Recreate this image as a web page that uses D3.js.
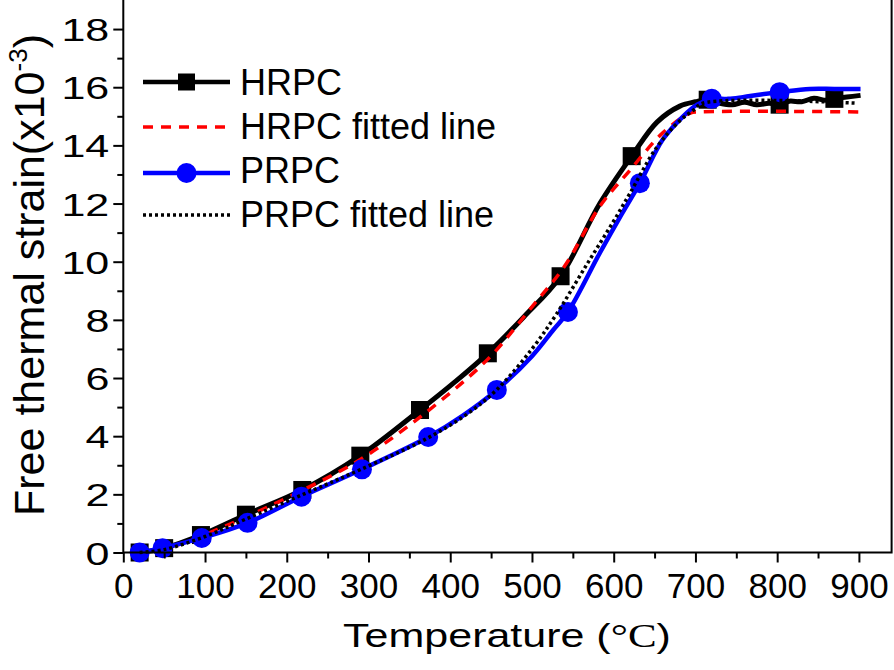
<!DOCTYPE html>
<html>
<head>
<meta charset="utf-8">
<script src="https://cdn.jsdelivr.net/npm/d3@7/dist/d3.min.js"></script>
<style>
  html, body { margin: 0; padding: 0; background: #fff; }
  svg { display: block; }
  text { font-family: "Liberation Sans", Arial, sans-serif; fill: #000; }
</style>
</head>
<body>
<svg id="chart" width="894" height="670"></svg>
<script>
// ---------- data ----------
const xTicks = [0, 100, 200, 300, 400, 500, 600, 700, 800, 900];
const xMinorTicks = [50, 150, 250, 350, 450, 550, 650, 750, 850];
const yTicks = [0, 2, 4, 6, 8, 10, 12, 14, 16, 18];
const yMinorTicks = [1, 3, 5, 7, 9, 11, 13, 15, 17];

const seriesNames = ["HRPC", "HRPC fitted line", "PRPC", "PRPC fitted line"];

// HRPC measured curve
const hrpcT = [20, 50, 95, 150, 219, 290, 363, 405, 446, 490, 535, 583, 622, 653, 681, 700, 715, 730, 745, 760, 775, 790, 803, 815, 830, 845, 860, 872, 885, 902];
const hrpcV = [0, 0.15, 0.6, 1.3, 2.15, 3.33, 4.9, 5.85, 6.85, 8.1, 9.5, 12.0, 13.63, 14.8, 15.35, 15.5, 15.57, 15.45, 15.4, 15.48, 15.4, 15.45, 15.42, 15.52, 15.5, 15.62, 15.55, 15.62, 15.66, 15.72];
const hrpcMarkT = [20, 50, 95, 150, 219, 290, 363, 446, 535, 622, 715, 803, 870];
const hrpcMarkV = [0, 0.15, 0.6, 1.3, 2.15, 3.33, 4.9, 6.85, 9.5, 13.63, 15.57, 15.4, 15.6];

// HRPC fitted line
const hrpcFitT = [20, 50, 100, 150, 220, 290, 365, 446, 500, 540, 583, 620, 660, 693, 706, 902];
const hrpcFitV = [0, 0.12, 0.62, 1.22, 2.15, 3.2, 4.7, 6.65, 8.45, 9.85, 11.9, 13.15, 14.43, 15.1, 15.15, 15.15];

// PRPC measured curve
const prpcT = [20, 48, 96, 152, 218, 292, 373, 415, 457, 500, 526, 544, 583, 607, 632, 660, 685, 702, 720, 740, 758, 780, 803, 840, 870, 902];
const prpcV = [0, 0.15, 0.5, 1.02, 1.92, 2.86, 3.97, 4.7, 5.59, 6.75, 7.65, 8.27, 10.3, 11.5, 12.7, 14.2, 15.0, 15.4, 15.6, 15.6, 15.66, 15.75, 15.83, 15.94, 15.94, 15.94];
const prpcMarkT = [20, 48, 96, 152, 218, 292, 373, 457, 544, 632, 720, 803];
const prpcMarkV = [0, 0.15, 0.5, 1.02, 1.92, 2.86, 3.97, 5.59, 8.27, 12.7, 15.6, 15.83];

// PRPC fitted line
const prpcFitT = [20, 50, 100, 150, 220, 290, 370, 420, 457, 500, 530, 567, 600, 620, 653, 681, 697, 709, 897];
const prpcFitV = [0, 0.1, 0.55, 1.15, 2.0, 2.85, 3.9, 4.75, 5.6, 7.0, 8.2, 9.9, 11.4, 12.36, 13.95, 14.85, 15.2, 15.45, 15.45];

// ---------- layout ----------
const svg = d3.select("#chart");
const x = d3.scaleLinear().domain([0, 940]).range([123.3, 891.6]);
const y = d3.scaleLinear().domain([0, 19]).range([552.5, -0.02]);
const X0 = x(0), X1 = x(940), Y0 = y(0), Y1 = y(19);

const zip = (a, b) => a.map((d, i) => [d, b[i]]);
const line = d3.line().x(d => x(d[0])).y(d => y(d[1])).curve(d3.curveCatmullRom.alpha(0.5));

const plot = svg.append("g");

// HRPC
plot.append("path").datum(zip(hrpcT, hrpcV)).attr("d", line)
  .attr("fill", "none").attr("stroke", "#000").attr("stroke-width", 5).attr("stroke-linejoin", "round");
plot.selectAll("rect.hm").data(zip(hrpcMarkT, hrpcMarkV)).enter().append("rect")
  .attr("x", d => x(d[0]) - 9).attr("y", d => y(d[1]) - 9)
  .attr("width", 18).attr("height", 18).attr("fill", "#000");
// HRPC fit
plot.append("path").datum(zip(hrpcFitT, hrpcFitV)).attr("d", line)
  .attr("fill", "none").attr("stroke", "#ff0000").attr("stroke-width", 3.5).attr("stroke-dasharray", "10,8");
// PRPC
plot.append("path").datum(zip(prpcT, prpcV)).attr("d", line)
  .attr("fill", "none").attr("stroke", "#0000ff").attr("stroke-width", 4.5).attr("stroke-linejoin", "round");
plot.selectAll("circle.pm").data(zip(prpcMarkT, prpcMarkV)).enter().append("circle")
  .attr("cx", d => x(d[0])).attr("cy", d => y(d[1])).attr("r", 10).attr("fill", "#0000ff");
// PRPC fit
plot.append("path").datum(zip(prpcFitT, prpcFitV)).attr("d", line)
  .attr("fill", "none").attr("stroke", "#000").attr("stroke-width", 3.5).attr("stroke-dasharray", "3,3");

// ---------- axes ----------
const axStyle = g => {
  g.selectAll("path.domain").remove();
  g.selectAll("line").attr("stroke", "#000").attr("stroke-width", 2);
};

const xAxis = svg.append("g").attr("transform", `translate(0,${Y0})`)
  .call(d3.axisBottom(x).tickValues(xTicks).tickSize(10).tickFormat(d3.format("d")));
axStyle(xAxis);
xAxis.selectAll("text").attr("y", 45.5).attr("dy", 0)
  .style("font-size", "35px").style("font-family", "'Liberation Sans', Arial, sans-serif");

const xMinor = svg.append("g").attr("transform", `translate(0,${Y0})`)
  .call(d3.axisBottom(x).tickValues(xMinorTicks).tickSize(6).tickFormat(""));
axStyle(xMinor);

const yAxis = svg.append("g").attr("transform", `translate(${X0},0)`)
  .call(d3.axisLeft(y).tickValues(yTicks).tickSize(10).tickFormat(d3.format("d")));
axStyle(yAxis);
yAxis.selectAll("text").attr("x", 0).attr("y", 0).attr("dy", 0)
  .attr("transform", "translate(-14,11.5) scale(1,0.75)")
  .style("font-size", "43px").style("font-family", "'Liberation Sans', Arial, sans-serif");

const yMinor = svg.append("g").attr("transform", `translate(${X0},0)`)
  .call(d3.axisLeft(y).tickValues(yMinorTicks).tickSize(6).tickFormat(""));
axStyle(yMinor);

// frame: left, bottom, right
svg.append("path")
  .attr("d", `M${X0},${Y1 - 2}V${Y0}H${X1}V${Y1 - 2}`)
  .attr("fill", "none").attr("stroke", "#000").attr("stroke-width", 2);

// ---------- titles ----------
const xt = svg.append("text")
  .attr("transform", "translate(507,647) scale(1,0.78)")
  .attr("text-anchor", "middle").style("font-size", "43px");
xt.append("tspan").text("Temperature (");
xt.append("tspan").style("font-family", "'Liberation Serif', 'Times New Roman', serif").text("\u00B0C");
xt.append("tspan").text(")");

const yt = svg.append("text")
  .attr("transform", "translate(44,275) rotate(-90)")
  .attr("text-anchor", "middle").style("font-size", "43px");
yt.append("tspan").text("Free thermal strain(x10");
yt.append("tspan").attr("dy", -17).style("font-size", "26px").text("-3");
yt.append("tspan").attr("dy", 17).text(")");

// ---------- legend ----------
const legY = [82, 127, 173, 215];
const legTextY = [95, 139, 183, 227];
const lx0 = 143, lx1 = 230, lmx = (lx0 + lx1) / 2;
const leg = svg.append("g");
const legStyles = [
  {stroke: "#000", w: 4.5, dash: null},
  {stroke: "#ff0000", w: 3.5, dash: "10,8"},
  {stroke: "#0000ff", w: 4.5, dash: null},
  {stroke: "#000", w: 3.5, dash: "3,3"}
];
seriesNames.forEach((name, i) => {
  const s = legStyles[i];
  const l = leg.append("line").attr("x1", lx0).attr("x2", lx1).attr("y1", legY[i]).attr("y2", legY[i])
    .attr("stroke", s.stroke).attr("stroke-width", s.w);
  if (s.dash) l.attr("stroke-dasharray", s.dash);
  if (i === 0) leg.append("rect").attr("x", lmx - 8.5).attr("y", legY[i] - 8.5).attr("width", 17).attr("height", 17).attr("fill", "#000");
  if (i === 2) leg.append("circle").attr("cx", lmx).attr("cy", legY[i]).attr("r", 10).attr("fill", "#0000ff");
  leg.append("text").attr("x", 240).attr("y", legTextY[i]).style("font-size", "36px").text(name);
});
</script>
</body>
</html>
